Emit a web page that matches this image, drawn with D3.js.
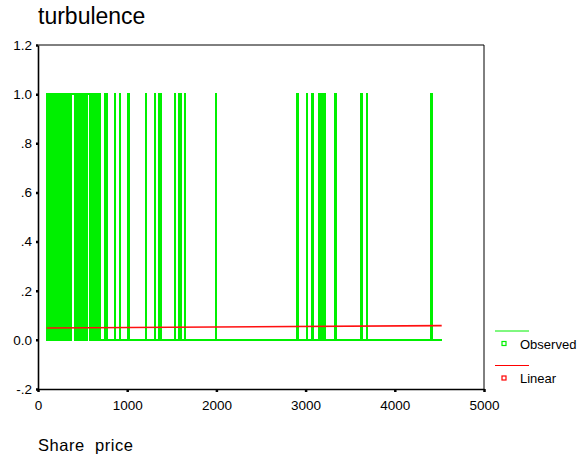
<!DOCTYPE html>
<html>
<head>
<meta charset="utf-8">
<script src="https://cdn.jsdelivr.net/npm/d3@7"></script>
<style>
  html, body { margin: 0; padding: 0; background: #fff; }
  #chart { width: 579px; height: 457px; }
</style>
</head>
<body>
<div id="chart"></div>
<script>
// ---------------------------------------------------------------------------
// turbulence vs share price — observed 0/1 series with a linear fit
// ---------------------------------------------------------------------------

// share prices where turbulence was observed (turbulence = 1)
const turbulentPrices = [
  100, 112, 124, 136, 148, 160, 172, 184, 196, 208, 220, 232, 244, 256, 268,
  280, 292, 304, 316, 328, 340, 352, 364, 376, 406, 418, 430, 442, 454,
  466, 478, 490, 502, 514, 526, 538, 550, 579, 591, 603, 615, 627, 639,
  651, 663, 675, 687, 695,
  755, 777, 863, 919, 1016, 1211, 1308, 1357, 1375, 1381, 1539, 1577, 1596,
  1651, 1995, 2911, 3012, 3072, 3083, 3150, 3169, 3192, 3218, 3337, 3618,
  3624, 3632, 3685, 4413,
];

// share prices with no turbulence (turbulence = 0)
const calmPrices = [
  97, 106, 118, 130, 142, 154, 166, 178, 190, 202, 214, 226, 238, 250, 262,
  274, 286, 298, 310, 322, 334, 346, 358, 370, 412, 424, 436, 448, 460,
  472, 484, 496, 508, 520, 532, 544, 585, 597, 609, 621, 633, 645, 657,
  669, 681, 691,
  700, 749, 761, 771, 783, 857, 869, 913, 925, 1010, 1022, 1100, 1205, 1217,
  1302, 1314, 1351, 1363, 1369, 1387, 1450, 1533, 1545, 1571, 1583, 1590,
  1602, 1645, 1657, 1800, 1989, 2001, 2200, 2400, 2600, 2800, 2905, 2917,
  3006, 3018, 3066, 3078, 3089, 3144, 3156, 3163, 3175, 3186, 3198, 3212,
  3224, 3331, 3343, 3500, 3612, 3638, 3679, 3691, 3900, 4100, 4300, 4407,
  4419, 4526,
];

// linear model: turbulence = b0 + b1 * price
const linearCoef = [0.0478, 0.00000226];

const yTicks = [-0.2, 0, 0.2, 0.4, 0.6, 0.8, 1.0, 1.2];
const yTickLabels = ['-.2', '0.0', '.2', '.4', '.6', '.8', '1.0', '1.2'];
const xTicks = [0, 1000, 2000, 3000, 4000, 5000];

const legendItems = [
  { label: 'Observed', color: '#00f000' },
  { label: 'Linear', color: '#ff0000' },
];

const width = 579;
const height = 457;
const margin = { top: 45, right: 95, bottom: 68, left: 38 };

const svg = d3
  .select('#chart')
  .append('svg')
  .attr('width', width)
  .attr('height', height)
  .style('font-family', '"Liberation Sans", Arial, sans-serif');

const x = d3.scaleLinear().domain([0, 5000]).range([margin.left, width - margin.right]);
const y = d3.scaleLinear().domain([-0.2, 1.2]).range([height - margin.bottom, margin.top]);

// title
svg
  .append('text')
  .attr('x', 38)
  .attr('y', 24)
  .style('font-size', '23px')
  .text('turbulence');

// frame (top and right)
svg
  .append('path')
  .attr('d', `M${x(0)},${y(1.2)}H${x(5000)}V${y(-0.2)}`)
  .attr('fill', 'none')
  .attr('stroke', '#000')
  .attr('stroke-width', 1);

// observed series, sorted by price
const observed = turbulentPrices
  .map((p) => ({ price: p, value: 1 }))
  .concat(calmPrices.map((p) => ({ price: p, value: 0 })))
  .sort((a, b) => a.price - b.price);

const stepLine = d3
  .line()
  .curve(d3.curveStep)
  .x((d) => x(d.price))
  .y((d) => y(d.value));

svg
  .append('path')
  .datum(observed)
  .attr('fill', 'none')
  .attr('stroke', '#00f000')
  .attr('stroke-width', 1.8)
  .attr('shape-rendering', 'crispEdges')
  .attr('d', stepLine);

// linear fit
const line = d3
  .line()
  .x((d) => x(d.price))
  .y((d) => y(d.value));

const priceExtent = d3.extent(observed, (d) => d.price);
const fitted = priceExtent.map((p) => ({
  price: p,
  value: linearCoef[0] + linearCoef[1] * p,
}));

svg
  .append('path')
  .datum(fitted)
  .attr('fill', 'none')
  .attr('stroke', '#ff1010')
  .attr('stroke-width', 1.6)
  .attr('d', line);

// axes
const yAxis = d3
  .axisLeft(y)
  .tickValues(yTicks)
  .tickFormat((d, i) => yTickLabels[i])
  .tickSizeInner(2)
  .tickSizeOuter(0)
  .tickPadding(4);

const gy = svg.append('g').attr('transform', `translate(${x(0)},0)`).call(yAxis);

const xAxis = d3
  .axisBottom(x)
  .tickValues(xTicks)
  .tickFormat(d3.format('d'))
  .tickSizeInner(3)
  .tickSizeOuter(0)
  .tickPadding(8);

const gx = svg.append('g').attr('transform', `translate(0,${y(-0.2)})`).call(xAxis);

[gx, gy].forEach((g) => {
  g.select('.domain').attr('stroke', '#000').attr('stroke-width', 1.6);
  g.selectAll('.tick line').attr('stroke', '#000').attr('stroke-width', 2.5);
  g.selectAll('.tick text')
    .attr('fill', '#000')
    .style('font-size', '13.5px')
    .style('font-family', '"Liberation Sans", Arial, sans-serif');
});

// x axis title
svg
  .append('text')
  .attr('x', 38)
  .attr('y', 451)
  .attr('textLength', 95)
  .style('font-size', '16.5px')
  .style('white-space', 'pre')
  .text('Share  price');

// legend
const legend = svg
  .append('g')
  .selectAll('g')
  .data(legendItems)
  .join('g')
  .attr('transform', (d, i) => `translate(495,${331 + i * 34.5})`);

legend
  .append('line')
  .attr('x1', 0)
  .attr('x2', 34)
  .attr('stroke', (d) => d.color)
  .attr('stroke-width', 1);

legend
  .append('rect')
  .attr('x', 7)
  .attr('y', 10.5)
  .attr('width', 4)
  .attr('height', 4)
  .attr('fill', '#fff')
  .attr('stroke', (d) => d.color)
  .attr('stroke-width', 1.2);

legend
  .append('text')
  .attr('x', 25)
  .attr('y', 17.5)
  .style('font-size', '13px')
  .text((d) => d.label);
</script>
</body>
</html>
